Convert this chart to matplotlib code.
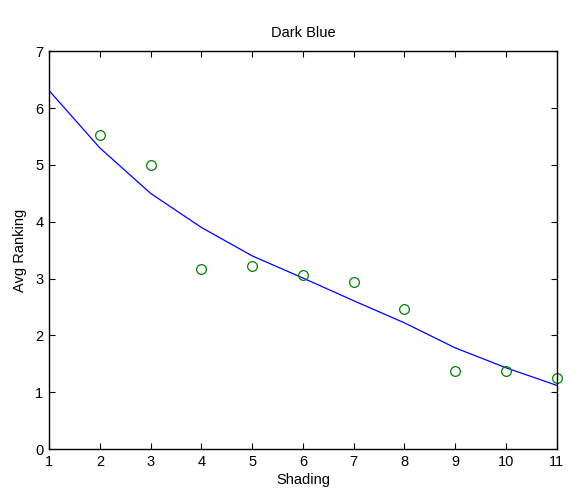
import numpy as np
import matplotlib
matplotlib.use("Agg")
import matplotlib.pyplot as plt

plt.rcParams['font.family'] = ['Liberation Sans', 'DejaVu Sans']

shading = [1, 2, 3, 4, 5, 6, 7, 8, 9, 10, 11]
pts_x = [2, 3, 4, 5, 6, 7, 8, 9, 10, 11]
pts_y = [5.53, 5.00, 3.16, 3.23, 3.06, 2.94, 2.47, 1.37, 1.37, 1.25]
fit_y = [6.31, 5.30, 4.50, 3.90, 3.40, 3.01, 2.61, 2.22, 1.78, 1.43, 1.12]

fig = plt.figure(figsize=(5.77, 4.91), dpi=100)
ax = fig.add_axes([0.085, 0.0855, 0.880, 0.81])
ax.plot(shading, fit_y, '-', color='blue', lw=0.9)
ax.plot(pts_x, pts_y, 'o', mfc='none', mec='green', ms=7, mew=0.9, clip_on=False)

ax.set_xlim(1, 11)
ax.set_ylim(0, 7)
ax.set_xticks(np.arange(1, 12, 1))
ax.set_yticks(np.arange(0, 8, 1))
ax.tick_params(direction='in', top=True, right=True, labelsize=10.5, length=4, pad=4)
for s in ax.spines.values():
    s.set_linewidth(1.0)

ax.set_title('Dark Blue', fontsize=10.5, pad=10)
ax.set_xlabel('Shading', fontsize=10.5, labelpad=3)
ax.set_ylabel('Avg Ranking', fontsize=10.5, labelpad=6)

fig.savefig('out.png', dpi=100)
